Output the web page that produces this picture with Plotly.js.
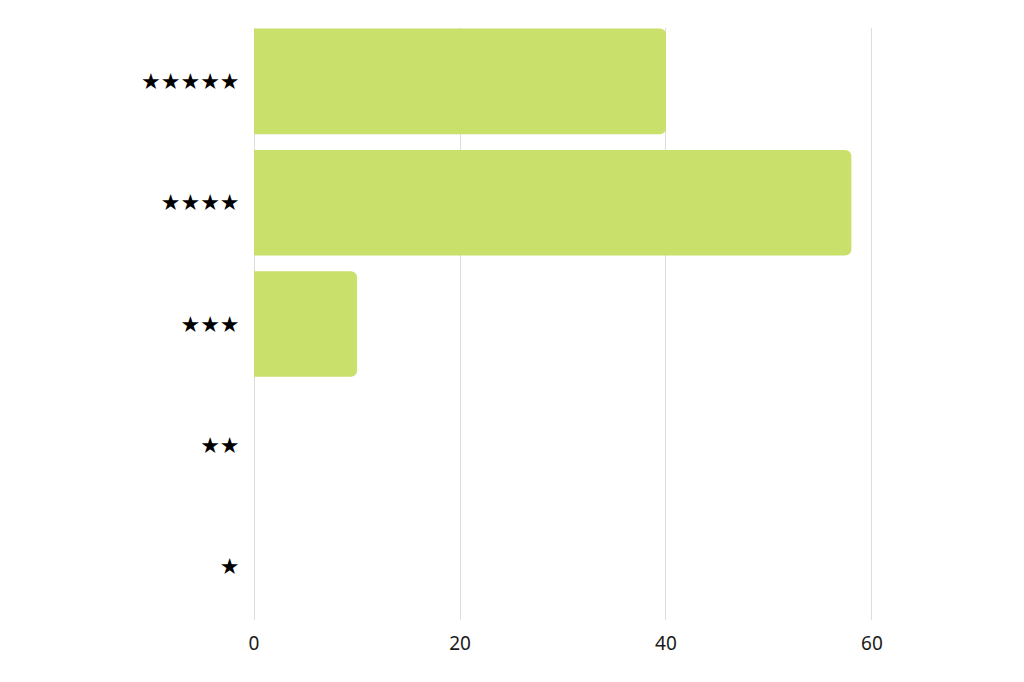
<!DOCTYPE html>
<html>
<head>
<meta charset="utf-8">
<script src="https://cdn.plot.ly/plotly-3.0.1.min.js"></script>
<style>html,body{margin:0;padding:0;background:#fff;}#chart{width:1024px;height:682px;}</style>
</head>
<body>
<div id="chart"></div>
<script>
const categories = ["★", "★★", "★★★", "★★★★", "★★★★★"];
const values = [0, 0, 10, 58, 40];
const xTicks = [0, 20, 40, 60];

const trace = {
  type: "bar",
  orientation: "h",
  y: categories,
  x: values,
  width: 0.87,
  marker: {color: "#c9e06b", line: {width: 0}},
  hoverinfo: "x+y"
};

const layout = {
  width: 1024,
  height: 682,
  paper_bgcolor: "#ffffff",
  plot_bgcolor: "#ffffff",
  margin: {l: 253, r: 151, t: 28, b: 62},
  barcornerradius: 6,
  showlegend: false,
  xaxis: {
    range: [-0.1, 60.1],
    tickvals: xTicks,
    ticktext: xTicks.map(String),
    showgrid: true,
    gridcolor: "#dddddd",
    gridwidth: 1,
    zeroline: true,
    zerolinecolor: "#dddddd",
    zerolinewidth: 1,
    showline: false,
    ticks: "outside",
    ticklen: 6,
    tickcolor: "rgba(0,0,0,0)",
    tickfont: {family: "Noto Sans, Open Sans, sans-serif", size: 19, color: "#1a1a1a"},
    fixedrange: true
  },
  yaxis: {
    type: "category",
    categoryorder: "array",
    categoryarray: categories,
    range: [-0.44, 4.44],
    showgrid: false,
    zeroline: false,
    showline: false,
    ticks: "outside",
    ticklen: 8,
    tickcolor: "rgba(0,0,0,0)",
    tickfont: {family: "DejaVu Sans, sans-serif", size: 22, color: "#000000"},
    fixedrange: true
  }
};

Plotly.newPlot("chart", [trace], layout, {displayModeBar: false, staticPlot: true});
</script>
</body>
</html>
